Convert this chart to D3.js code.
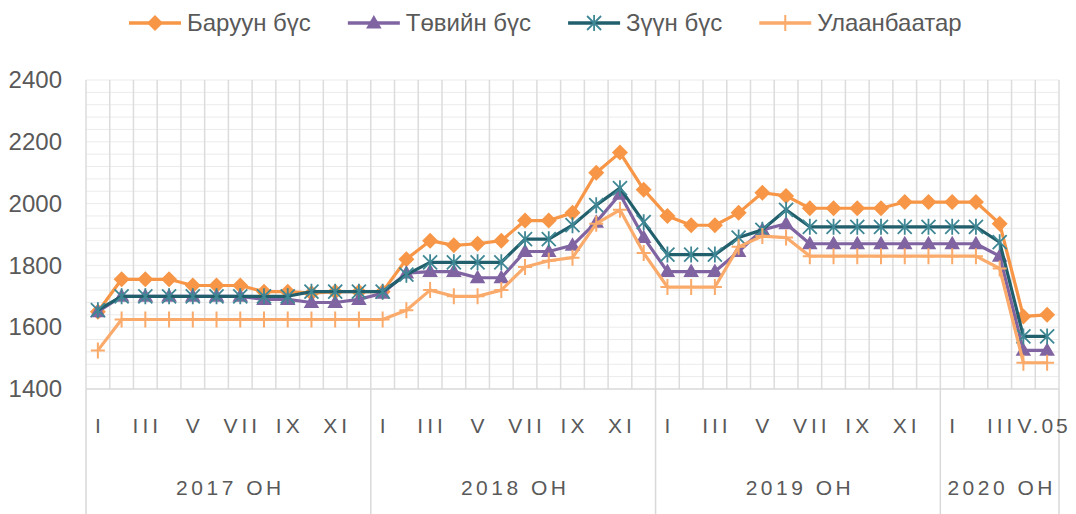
<!DOCTYPE html>
<html>
<head>
<meta charset="utf-8">
<script src="https://cdn.jsdelivr.net/npm/d3@7"></script>
<style>
  body { margin: 0; background: #fff; }
  svg { font-family: "Liberation Sans", Arial, sans-serif; }
</style>
</head>
<body>
<div id="chart"></div>
<script>
// Data
var years = ["2017 ОН", "2018 ОН", "2019 ОН", "2020 ОН"];
var roman = ["I","II","III","IV","V","VI","VII","VIII","IX","X","XI","XII"];
var months2020 = ["I","II","III","IV","V.05"];
var yTicks = [1400, 1600, 1800, 2000, 2200, 2400];

var seriesNames = ["Баруун бүс", "Төвийн бүс", "Зүүн бүс", "Улаанбаатар"];

var baruun = [
  1650,1755,1755,1755,1735,1735,1735,1715,1715,1710,1715,1715,
  1715,1820,1880,1865,1870,1880,1945,1945,1970,2100,2165,2045,
  1960,1930,1930,1970,2035,2025,1985,1985,1985,1985,2005,2005,
  2005,2005,1935,1635,1640];
var tuviin = [
  1650,1700,1700,1700,1700,1700,1700,1690,1690,1680,1680,1690,
  1710,1775,1780,1780,1760,1760,1845,1845,1865,1940,2030,1890,
  1780,1780,1780,1845,1915,1935,1870,1870,1870,1870,1870,1870,
  1870,1870,1830,1525,1525];
var zuun = [
  1655,1700,1700,1700,1700,1700,1700,1700,1700,1715,1715,1715,
  1715,1770,1810,1810,1810,1810,1885,1885,1930,1995,2050,1940,
  1835,1835,1835,1890,1915,1980,1925,1925,1925,1925,1925,1925,
  1925,1925,1875,1570,1570];
var ub = [
  1525,1625,1625,1625,1625,1625,1625,1625,1625,1625,1625,1625,
  1625,1655,1720,1700,1700,1720,1795,1815,1825,1935,1980,1840,
  1730,1730,1730,1860,1895,1890,1830,1830,1830,1830,1830,1830,
  1830,1830,1790,1485,1485];

// categories: {year, label}
var cats = [];
years.forEach(function(yr, yi) {
  var ms = yi < 3 ? roman : months2020;
  ms.forEach(function(m, mi) { cats.push({year: yi, m: m, mi: mi, idx: cats.length}); });
});

var series = [
  {name: seriesNames[0], values: baruun, color: "#F79646", marker: "diamond"},
  {name: seriesNames[1], values: tuviin, color: "#8064A2", marker: "triangle"},
  {name: seriesNames[2], values: zuun,   color: "#215F6C", marker: "star"},
  {name: seriesNames[3], values: ub,     color: "#FAAA6A", marker: "plus"}
];

var W = 1076, H = 514;
var plotL = 86, plotR = 1059, plotT = 80, plotB = 389;

var svg = d3.select("#chart").append("svg")
  .attr("width", W).attr("height", H);

var x = d3.scaleBand()
  .domain(cats.map(function(d){ return d.idx; }))
  .range([plotL, plotR])
  .padding(0);

var y = d3.scaleLinear()
  .domain([1400, 2400])
  .range([plotB, plotT]);

// horizontal gridlines (minor every 40)
svg.append("g")
  .selectAll("line")
  .data(d3.range(1440, 2401, 40))
  .enter().append("line")
    .attr("x1", plotL).attr("x2", plotR)
    .attr("y1", function(d){ return y(d); })
    .attr("y2", function(d){ return y(d); })
    .attr("stroke", "#ebebeb")
    .attr("stroke-width", 1);

// vertical gridlines at category borders
var borders = cats.map(function(d){ return x(d.idx); }).concat([plotR]);
svg.append("g")
  .selectAll("line")
  .data(borders)
  .enter().append("line")
    .attr("x1", function(d){ return d; })
    .attr("x2", function(d){ return d; })
    .attr("y1", plotT).attr("y2", plotB)
    .attr("stroke", "#dcdcdc")
    .attr("stroke-width", 1.5);

// axis line
svg.append("line")
  .attr("x1", plotL).attr("x2", plotR)
  .attr("y1", plotB).attr("y2", plotB)
  .attr("stroke", "#d9d9d9").attr("stroke-width", 1.5);

// year group separators below axis
var yearStarts = cats.filter(function(d){ return d.mi === 0; }).map(function(d){ return x(d.idx); }).concat([plotR]);
svg.append("g")
  .selectAll("line")
  .data(yearStarts)
  .enter().append("line")
    .attr("x1", function(d){ return d; })
    .attr("x2", function(d){ return d; })
    .attr("y1", plotB).attr("y2", H)
    .attr("stroke", "#d9d9d9")
    .attr("stroke-width", 1.5);

// y axis
var yAxis = svg.append("g")
  .attr("transform", "translate(" + plotL + ",0)")
  .call(d3.axisLeft(y).tickValues(yTicks).tickFormat(d3.format("d")).tickSize(0).tickPadding(24));
yAxis.select(".domain").remove();
yAxis.selectAll("text")
  .attr("fill", "#595959")
  .style("font-size", "24px")
  .style("font-family", "Liberation Sans, Arial, sans-serif");

// category labels (every other month)
svg.append("g")
  .selectAll("text")
  .data(cats.filter(function(d){ return d.mi % 2 === 0; }))
  .enter().append("text")
    .attr("x", function(d){ return x(d.idx) + x.bandwidth() / 2 + (d.m.length > 3 ? -3 : 2); })
    .attr("y", 433)
    .attr("text-anchor", "middle")
    .attr("fill", "#595959")
    .style("font-size", "21px")
    .style("letter-spacing", function(d){ return d.m.length > 3 ? "3px" : "4px"; })
    .text(function(d){ return d.m; });

// year labels
svg.append("g")
  .selectAll("text")
  .data(years)
  .enter().append("text")
    .attr("x", function(d, i){ return (yearStarts[i] + yearStarts[i + 1]) / 2 + 2; })
    .attr("y", 495)
    .attr("text-anchor", "middle")
    .attr("fill", "#595959")
    .style("font-size", "21px")
    .style("letter-spacing", "3.5px")
    .text(function(d){ return d; });

// markers
function drawMarker(g, type, color) {
  if (type === "diamond") {
    g.append("path").attr("d", "M0,-8L8,0L0,8L-8,0Z").attr("fill", color);
  } else if (type === "triangle") {
    g.append("path").attr("d", d3.symbol(d3.symbolTriangle, 105)()).attr("fill", color)
      .attr("transform", "translate(0,1)");
  } else if (type === "star") {
    g.append("path").attr("d", "M-7,-7L7,7M-7,7L7,-7M0,-8L0,8")
      .attr("stroke", "#3f8794").attr("stroke-width", 1.8).attr("fill", "none");
  } else if (type === "plus") {
    g.append("path").attr("d", "M-7,0L7,0M0,-8L0,8")
      .attr("stroke", color).attr("stroke-width", 2).attr("fill", "none");
  }
}

var line = d3.line()
  .x(function(d, i){ return x(i) + x.bandwidth() / 2; })
  .y(function(d){ return y(d); });

series.forEach(function(s) {
  var g = svg.append("g");
  g.append("path")
    .datum(s.values)
    .attr("d", line)
    .attr("fill", "none")
    .attr("stroke", s.color)
    .attr("stroke-width", 3.2)
    .attr("stroke-linejoin", "round");
  g.selectAll("g.mk")
    .data(s.values)
    .enter().append("g")
      .attr("class", "mk")
      .attr("transform", function(d, i){ return "translate(" + (x(i) + x.bandwidth() / 2) + "," + y(d) + ")"; })
      .each(function(){ drawMarker(d3.select(this), s.marker, s.color); });
});

// legend
var lx = 129;
series.forEach(function(s) {
  var g = svg.append("g").attr("transform", "translate(" + lx + ",23)");
  g.append("line").attr("x1", 0).attr("x2", 52).attr("y1", 0).attr("y2", 0)
    .attr("stroke", s.color).attr("stroke-width", 3.5);
  var mk = g.append("g").attr("transform", "translate(26,0)");
  drawMarker(mk, s.marker, s.color);
  var t = g.append("text")
    .attr("x", 58).attr("y", 8)
    .attr("fill", "#595959")
    .style("font-size", "24px")
    .text(s.name);
  lx += 58 + t.node().getComputedTextLength() + 37;
});
</script>
</body>
</html>
